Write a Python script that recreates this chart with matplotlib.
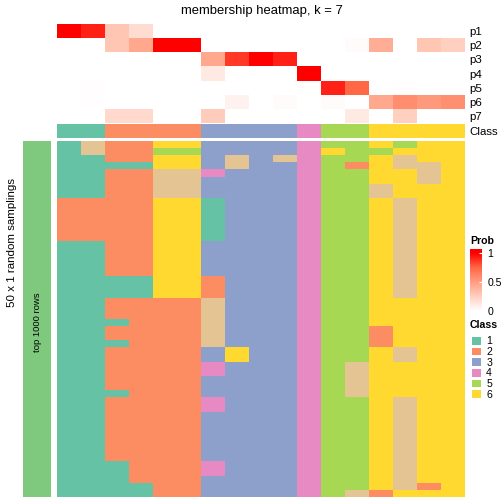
import numpy as np
import matplotlib
matplotlib.use('Agg')
import matplotlib.pyplot as plt
from matplotlib.colors import ListedColormap, LinearSegmentedColormap

plt.rcParams['font.family'] = ['Liberation Sans', 'DejaVu Sans']

title = 'membership heatmap, k = 7'
side_label = '50 x 1 random samplings'
bar_label = 'top 1000 rows'

# membership probabilities, one list per class, 17 consensus columns
prob_names = ['p1', 'p2', 'p3', 'p4', 'p5', 'p6', 'p7']
p1 = [1.00, 0.92, 0.30, 0.18, 0, 0, 0, 0, 0, 0, 0, 0, 0, 0, 0, 0, 0]
p2 = [0, 0, 0.30, 0.45, 1.00, 1.00, 0, 0, 0, 0, 0, 0, 0.02, 0.42, 0, 0.30, 0.25]
p3 = [0, 0, 0, 0, 0, 0, 0.45, 0.86, 1.00, 0.92, 0, 0, 0, 0, 0, 0, 0]
p4 = [0, 0, 0, 0, 0, 0, 0.11, 0, 0, 0, 1.00, 0, 0, 0, 0, 0, 0]
p5 = [0, 0.01, 0, 0, 0, 0, 0, 0, 0, 0, 0, 0.92, 0.75, 0, 0.01, 0, 0]
p6 = [0, 0.01, 0, 0, 0, 0, 0, 0.07, 0, 0.02, 0, 0.02, 0, 0.45, 0.58, 0.52, 0.57]
p7 = [0, 0, 0.20, 0.20, 0, 0, 0.27, 0, 0, 0, 0, 0, 0.11, 0, 0.25, 0, 0]

col_class = [1, 1, 2, 2, 2, 2, 3, 3, 3, 3, 4, 5, 5, 6, 6, 6, 6]

# class of each column in each of the 50 samplings (one string per row)
samplings = [
    '17226633334556566',
    '17225533334655666',
    '11226637374556766',
    '11116637334526776',
    '11227743334556676',
    '11227733334556676',
    '11227733334557666',
    '11227733334557666',
    '22226613334556766',
    '22226613334556766',
    '22226613334556766',
    '22226613334556766',
    '22226613334556766',
    '22226613334556766',
    '11226633334556766',
    '11226633334556766',
    '11226633334556766',
    '11226633334556766',
    '11226633334556766',
    '11116623334556766',
    '11116623334556766',
    '11116623334556766',
    '11222273334556666',
    '11222273334556666',
    '11222273334556666',
    '11122273334556666',
    '11222273334552666',
    '11222273334552666',
    '11122273334552666',
    '11222236334556766',
    '11222236334556766',
    '11222243334576666',
    '11222243334576666',
    '11222233334576666',
    '11222233334576666',
    '11122233334576666',
    '11222243334556766',
    '11222243334556766',
    '11222233334556766',
    '11222233334556766',
    '11222233334556766',
    '11222233334556766',
    '11222233334556766',
    '11222233334556766',
    '11222233334556766',
    '11122243334556766',
    '11122243334556766',
    '11122233334556766',
    '11112233334556726',
    '11112233334572666',
]

class_colors = ['#66C2A5', '#FC8D62', '#8DA0CB', '#E78AC3', '#A6D854', '#FFD92F', '#E5C494']
legend_classes = [1, 2, 3, 4, 5, 6]
prob_ticks = [0, 0.5, 1]
bar_color = '#7FC97F'

# white -> red, interpolated like in LAB space
prob_cmap = LinearSegmentedColormap.from_list(
    'prob', ['#FFFFFF', '#FFCFBF', '#FF9E81', '#FF6846', '#FF0000'])
class_cmap = ListedColormap(class_colors)

W = H = 504.0
fig = plt.figure(figsize=(5.04, 5.04), dpi=100)


def px_axes(x0, y0, x1, y1):
    return fig.add_axes([x0 / W, 1 - y1 / H, (x1 - x0) / W, (y1 - y0) / H])


def fs(px):
    return px * 72 / 100


def clean(ax):
    for s in ax.spines.values():
        s.set_visible(False)


prob = np.array([p1, p2, p3, p4, p5, p6, p7])
mat = np.array([[int(c) for c in row] for row in samplings])
ncol = len(col_class)

# probability annotation
ax_p = px_axes(57, 24, 465, 123)
ax_p.pcolormesh(prob, cmap=prob_cmap, vmin=0, vmax=1)
ax_p.set_xlim(0, ncol)
ax_p.set_ylim(len(prob_names), 0)
ax_p.set_xticks([])
ax_p.yaxis.tick_right()
ax_p.set_yticks(np.arange(len(prob_names)) + 0.5)
ax_p.set_yticklabels(prob_names, fontsize=fs(11.5))
ax_p.tick_params(axis='y', length=0, pad=3)
clean(ax_p)

# class annotation
ax_c = px_axes(57, 124, 465, 138)
ax_c.pcolormesh(np.array([col_class]), cmap=class_cmap, vmin=0.5, vmax=7.5)
ax_c.set_xlim(0, ncol)
ax_c.set_xticks([])
ax_c.yaxis.tick_right()
ax_c.set_yticks([0.5])
ax_c.set_yticklabels(['Class'], fontsize=fs(11.5))
ax_c.tick_params(axis='y', length=0, pad=3)
clean(ax_c)

# main heatmap
ax_m = px_axes(57, 141, 465, 497)
ax_m.pcolormesh(mat, cmap=class_cmap, vmin=0.5, vmax=7.5)
ax_m.set_xlim(0, ncol)
ax_m.set_ylim(len(samplings), 0)
ax_m.set_xticks([])
ax_m.set_yticks([])
clean(ax_m)

# left split bar
ax_b = px_axes(23, 141, 51, 497)
ax_b.set_facecolor(bar_color)
ax_b.set_xticks([])
ax_b.set_yticks([])
clean(ax_b)
ax_b.text(0.5, 0.49, bar_label, rotation=90, ha='center', va='center',
          fontsize=fs(9.5), transform=ax_b.transAxes)

fig.text(12.5 / W, 1 - 242.5 / H, side_label, rotation=90, ha='center', va='center',
         fontsize=fs(11.5))
fig.text(262 / W, 1 - 11 / H, title, ha='center', va='center', fontsize=fs(13))

# Prob legend
fig.text(470 / W, 1 - 241 / H, 'Prob', ha='left', va='center',
         fontsize=fs(10.5), fontweight='bold')
cax = px_axes(470, 249, 482, 313)
lo, hi = -0.035, 1.07
grad = np.linspace(hi, lo, 200).reshape(-1, 1)
cax.imshow(grad, cmap=prob_cmap, vmin=0, vmax=1, aspect='auto',
           extent=[0, 1, lo, hi], interpolation='bilinear')
cax.set_ylim(lo, hi)
cax.set_xticks([])
cax.yaxis.tick_right()
cax.set_yticks(prob_ticks)
cax.set_yticklabels(['0', '0.5', '1'], fontsize=fs(10.5))
cax.tick_params(axis='y', length=2, width=0.8, color='white', direction='in', pad=4)
clean(cax)

# Class legend
fig.text(470 / W, 1 - 325 / H, 'Class', ha='left', va='center',
         fontsize=fs(10.5), fontweight='bold')
ax_l = px_axes(470, 335, 482, 399)
ax_l.pcolormesh(np.array(legend_classes).reshape(-1, 1), cmap=class_cmap,
                vmin=0.5, vmax=7.5, edgecolors='white', linewidth=0.8)
ax_l.set_ylim(len(legend_classes), 0)
ax_l.set_xticks([])
ax_l.yaxis.tick_right()
ax_l.set_yticks(np.arange(len(legend_classes)) + 0.5)
ax_l.set_yticklabels([str(c) for c in legend_classes], fontsize=fs(10.5))
ax_l.tick_params(axis='y', length=0, pad=3)
clean(ax_l)

plt.savefig('out.png', dpi=100)
